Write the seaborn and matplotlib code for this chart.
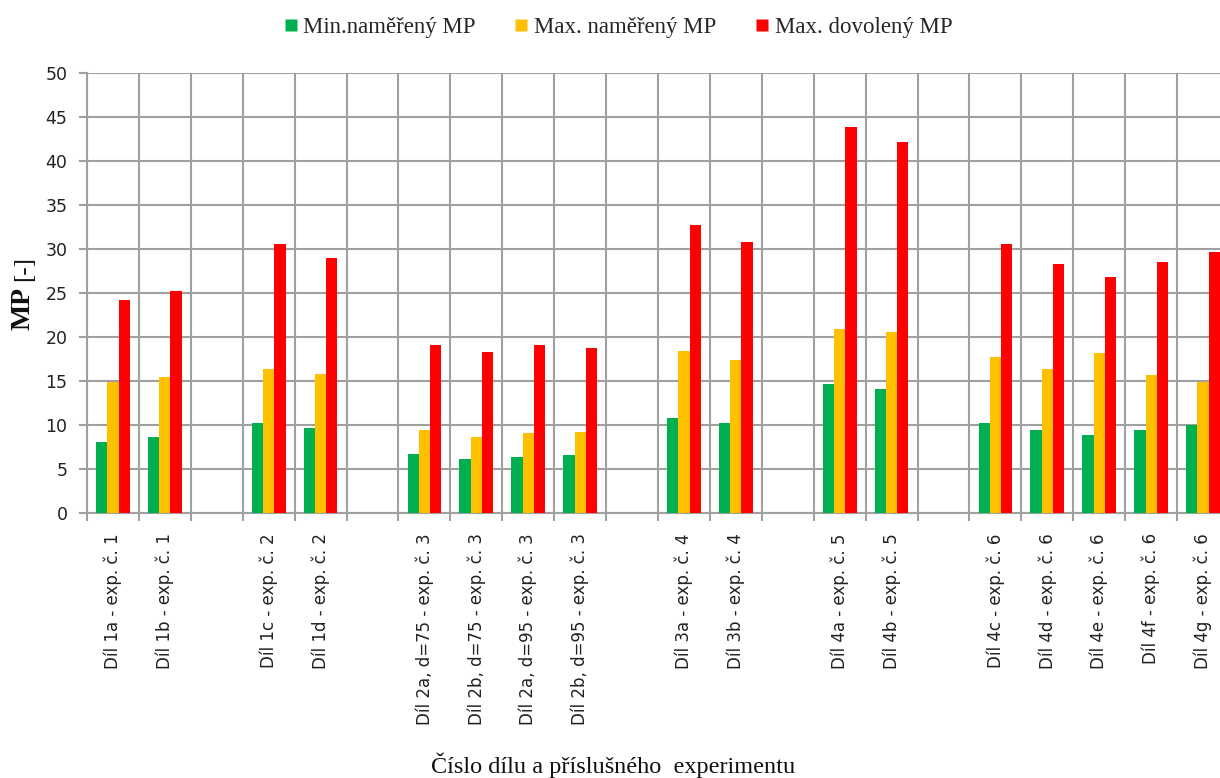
import matplotlib
matplotlib.use("Agg")
import matplotlib.pyplot as plt
import seaborn as sns
import pandas as pd
from matplotlib.lines import Line2D

# Part / experiment labels; whitespace-only entries are the empty slots between experiments
parts = [
    "Díl 1a - exp. č. 1", "Díl 1b - exp. č. 1", " ",
    "Díl 1c - exp. č. 2", "Díl 1d - exp. č. 2", "  ",
    "Díl 2a, d=75 - exp. č. 3", "Díl 2b, d=75 - exp. č. 3",
    "Díl 2a, d=95 - exp. č. 3", "Díl 2b, d=95 - exp. č. 3", "   ",
    "Díl 3a - exp. č. 4", "Díl 3b - exp. č. 4", "    ",
    "Díl 4a - exp. č. 5", "Díl 4b - exp. č. 5", "     ",
    "Díl 4c - exp. č. 6", "Díl 4d - exp. č. 6", "Díl 4e - exp. č. 6",
    "Díl 4f - exp. č. 6", "Díl 4g - exp. č. 6",
]
measured = [p for p in parts if p.strip()]

min_measured = [8.0, 8.6, 10.2, 9.6, 6.6, 6.1, 6.3, 6.5, 10.7, 10.2, 14.6, 14.0, 10.2, 9.4, 8.8, 9.4, 9.9]
max_measured = [14.9, 15.4, 16.3, 15.8, 9.4, 8.6, 9.0, 9.2, 18.4, 17.3, 20.9, 20.5, 17.7, 16.3, 18.1, 15.6, 14.9]
max_allowed = [24.2, 25.2, 30.6, 28.9, 19.0, 18.3, 19.0, 18.7, 32.7, 30.8, 43.9, 42.2, 30.6, 28.3, 26.8, 28.5, 29.6]

series_names = ["Min.naměřený MP", "Max. naměřený MP", "Max. dovolený MP"]
series_colors = ["#00B050", "#FFC000", "#FF0000"]

df = pd.DataFrame({
    "part": measured * 3,
    "series": sum([[n] * len(measured) for n in series_names], []),
    "MP": min_measured + max_measured + max_allowed,
})

sns.set_theme(style="white")
plt.rcParams["font.family"] = ["DejaVu Sans"]

fig = plt.figure(figsize=(12.2, 7.78), dpi=100)
ax = fig.add_axes([87 / 1220, 1 - 512.5 / 778, (1229 - 87) / 1220, (512.5 - 73) / 778])

sns.barplot(
    data=df, x="part", y="MP", hue="series", order=parts, hue_order=series_names,
    palette=series_colors, saturation=1, width=0.65, gap=0, errorbar=None, ax=ax,
    edgecolor="none", legend=False, zorder=3,
)

ax.set_xlim(-0.5, len(parts) - 0.5)
ax.set_ylim(0, 50)
ax.set_yticks(range(0, 51, 5))
ax.tick_params(axis="y", labelsize=12.5, length=6, width=1.5, color="#A0A0A0",
               pad=8, left=True, labelcolor="#222222")

# category labels centred on slots, boundary ticks between slots
ax.set_xticks(range(len(parts)))
ax.set_xticklabels([p if p.strip() else "" for p in parts], rotation=90,
                   fontsize=12, va="top", ha="center", color="#222222")
ax.tick_params(axis="x", which="major", length=0, pad=15)
ax.set_xticks([i - 0.5 for i in range(len(parts) + 1)], minor=True)
ax.tick_params(axis="x", which="minor", length=6, width=1.5, color="#A0A0A0", bottom=True)

ax.grid(True, which="minor", axis="x", color="#A0A0A0", linewidth=1.5, zorder=0)
ax.grid(True, which="major", axis="y", color="#A0A0A0", linewidth=1.5, zorder=0)
ax.grid(False, which="major", axis="x")
ax.set_axisbelow(True)
for side in ["top", "right"]:
    ax.spines[side].set_visible(False)
for side in ["left", "bottom"]:
    ax.spines[side].set_color("#A0A0A0")
    ax.spines[side].set_linewidth(1.5)
ax.set_xlabel("")
ax.set_ylabel("")

serif = ["Liberation Serif", "DejaVu Serif"]
fig.text(23 / 1220, 1 - 309 / 778, "MP", rotation=90, ha="center", va="center",
         fontsize=20, fontweight="bold", family=serif, color="#111111")
fig.text(24 / 1220, 1 - 268 / 778, "[-]", rotation=90, ha="center", va="center",
         fontsize=18, family=serif, color="#111111")
fig.text(613 / 1220, 1 - 765 / 778, "Číslo dílu a příslušného  experimentu",
         ha="center", va="center", fontsize=17.5, family=serif, color="#111111")

handles = [Line2D([0], [0], marker="s", linestyle="none", markersize=9,
                  markerfacecolor=c, markeredgecolor="none") for c in series_colors]
fig.legend(handles, series_names, loc="center", bbox_to_anchor=(618 / 1220, 1 - 27 / 778),
           ncol=3, frameon=False, handlelength=0.6, handletextpad=0.25, columnspacing=1.7,
           prop={"family": serif, "size": 16.5})

fig.savefig("out.png", dpi=100)
